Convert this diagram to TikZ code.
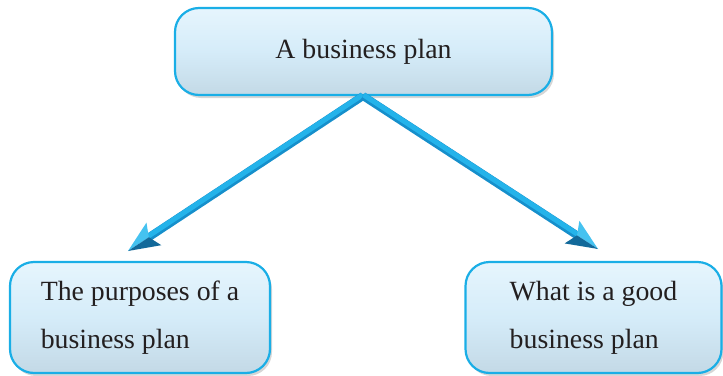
\documentclass[tikz,border=0pt]{standalone}
\usepackage{fontspec}
\setmainfont{Liberation Serif}
\usetikzlibrary{shadows,calc}
\definecolor{boxedge}{HTML}{1AAEE6}
\definecolor{boxfill}{HTML}{D5ECF9}
\definecolor{boxtop}{HTML}{E6F5FD}
\definecolor{boxbot}{HTML}{C3D9E6}
\definecolor{shaftdark}{HTML}{168FCB}
\definecolor{shaftlight}{HTML}{24B3EA}
\definecolor{headlight}{HTML}{45C2F0}
\definecolor{headdark}{HTML}{12699A}
\definecolor{ink}{HTML}{231F20}
\tikzset{
  bubble/.style={draw=boxedge, line width=2.2pt, rounded corners=24pt,
    top color=boxtop, bottom color=boxbot, middle color=boxfill,
    drop shadow={shadow xshift=2pt, shadow yshift=-3pt, fill=black!40, opacity=0.4},
    align=left, inner sep=0pt,
    font=\fontsize{27.8}{48}\selectfont, text=ink},
  shaft/.style={draw=shaftdark, line width=8pt},
  shafthi/.style={draw=shaftlight, line width=5pt},
  headup/.style={fill=headlight},
  headdn/.style={fill=headdark}
}
\begin{document}
\begin{tikzpicture}[x=1pt,y=-1pt]
\useasboundingbox (0,0) rectangle (723,375);
\node[bubble, minimum width=377pt, minimum height=87pt] (top) at (363.5,51.5) {A business plan};
\node[bubble, minimum width=260pt, minimum height=111pt] (left) at (140,317.5) {The purposes of a\\business plan};
\node[bubble, minimum width=256pt, minimum height=111pt] (right) at (593.5,317.5) {What is a good\\business plan};
\coordinate (tipL) at (128,251);
\coordinate (tipR) at (598,249);
\coordinate (src) at (363,96);
\foreach \t/\s in {tipL/-90, tipR/90}{
  \coordinate (bk) at ($(\t)!31pt!(src)$);
  \coordinate (in) at ($(\t)!25pt!(src)$);
  \coordinate (bu) at ($(bk)!13.5pt!\s:(\t)$);
  \coordinate (bd) at ($(bk)!13.5pt!-\s:(\t)$);
  \draw[shaft] (src) -- (in);
  \draw[shafthi] ($(src)!1.2pt!\s:(in)$) -- ($(in)!1.2pt!-\s:(src)$);
  \path[headup] (\t) -- (bu) -- (in) -- cycle;
  \path[headdn] (\t) -- (in) -- (bd) -- cycle;
}
\end{tikzpicture}
\end{document}
